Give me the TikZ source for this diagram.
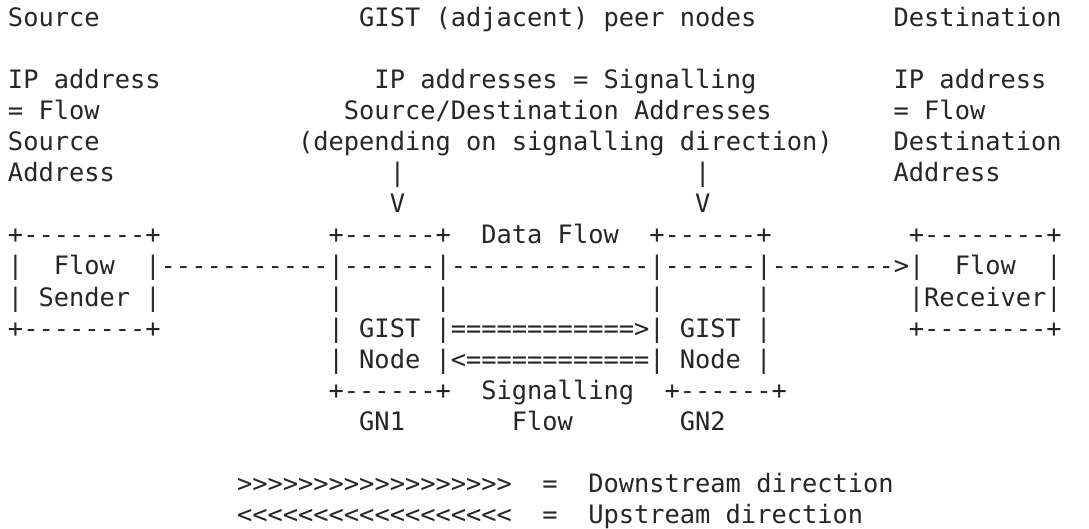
\documentclass[tikz,border=0pt]{standalone}
\usepackage{fontspec}
\setmonofont{DejaVu Sans Mono}
\definecolor{inkgray}{RGB}{38,38,38}
\newcommand{\cw}{15.27}
\newcommand{\mx}{8}
\newcommand{\lh}{31}
\newcommand{\bl}{27}
\tikzset{
  ascii/.style={anchor=base west, inner sep=0pt, outer sep=0pt,
    font=\ttfamily\fontsize{25.37}{31}\selectfont, text=inkgray},
}
% \at{col}{line}
\newcommand{\at}[2]{({\mx+\cw*(#1)},{-(\bl+\lh*(#2))})}
\begin{document}
\begin{tikzpicture}[x=1pt,y=1pt]
\fill[white] (0,0) rectangle (1089,-529);
\useasboundingbox (0,0) rectangle (1089,-529);
% line 0
\node[ascii] (srcT) at \at{0}{0} {Source};
\node[ascii] (peerT) at \at{23}{0} {GIST (adjacent) peer nodes};
\node[ascii] (dstT) at \at{58}{0} {Destination};
% line 2-5
\node[ascii] (srcA) at \at{0}{2} {IP address};
\node[ascii] (peerA) at \at{24}{2} {IP addresses = Signalling};
\node[ascii] (dstA) at \at{58}{2} {IP address};
\node[ascii] (srcB) at \at{0}{3} {= Flow};
\node[ascii] (peerB) at \at{22}{3} {Source/Destination Addresses};
\node[ascii] (dstB) at \at{58}{3} {= Flow};
\node[ascii] (srcC) at \at{0}{4} {Source};
\node[ascii] (peerC) at \at{19}{4} {(depending on signalling direction)};
\node[ascii] (dstC) at \at{58}{4} {Destination};
\node[ascii] (srcD) at \at{0}{5} {Address};
\node[ascii] (barL) at \at{25}{5} {|};
\node[ascii] (barR) at \at{45}{5} {|};
\node[ascii] (dstD) at \at{58}{5} {Address};
% line 6
\node[ascii] (vL) at \at{25}{6} {V};
\node[ascii] (vR) at \at{45}{6} {V};
% line 7
\node[ascii] (sndTop) at \at{0}{7} {+--------+};
\node[ascii] (gnaTop) at \at{21}{7} {+------+};
\node[ascii] (dataLbl) at \at{31}{7} {Data Flow};
\node[ascii] (gnbTop) at \at{42}{7} {+------+};
\node[ascii] (rcvTop) at \at{59}{7} {+--------+};
% line 8
\node[ascii] (sndL1) at \at{0}{8} {|};
\node[ascii] (sndFlow) at \at{3}{8} {Flow};
\node[ascii] (dataLine) at \at{9}{8} {|-----------|------|-------------|------|-------->|};
\node[ascii] (rcvFlow) at \at{62}{8} {Flow};
\node[ascii] (rcvR1) at \at{68}{8} {|};
% line 9
\node[ascii] (sndL2) at \at{0}{9} {|};
\node[ascii] (sndName) at \at{2}{9} {Sender};
\node[ascii] (sndR2) at \at{9}{9} {|};
\node[ascii] (gnaL2) at \at{21}{9} {|};
\node[ascii] (gnaR2) at \at{28}{9} {|};
\node[ascii] (gnbL2) at \at{42}{9} {|};
\node[ascii] (gnbR2) at \at{49}{9} {|};
\node[ascii] (rcvName) at \at{59}{9} {|Receiver|};
% line 10
\node[ascii] (sndBot) at \at{0}{10} {+--------+};
\node[ascii] (gnaL3) at \at{21}{10} {|};
\node[ascii] (gnaGist) at \at{23}{10} {GIST};
\node[ascii] (sigDown) at \at{28}{10} {|============>|};
\node[ascii] (gnbGist) at \at{44}{10} {GIST};
\node[ascii] (gnbR3) at \at{49}{10} {|};
\node[ascii] (rcvBot) at \at{59}{10} {+--------+};
% line 11
\node[ascii] (gnaL4) at \at{21}{11} {|};
\node[ascii] (gnaNode) at \at{23}{11} {Node};
\node[ascii] (sigUp) at \at{28}{11} {|<============|};
\node[ascii] (gnbNode) at \at{44}{11} {Node};
\node[ascii] (gnbR4) at \at{49}{11} {|};
% line 12
\node[ascii] (gnaBot) at \at{21}{12} {+------+};
\node[ascii] (sigLbl) at \at{31}{12} {Signalling};
\node[ascii] (gnbBot) at \at{43}{12} {+------+};
% line 13
\node[ascii] (gnaName) at \at{23}{13} {GN1};
\node[ascii] (sigLbl2) at \at{33}{13} {Flow};
\node[ascii] (gnbName) at \at{44}{13} {GN2};
% legend
\node[ascii] (downArr) at \at{15}{15} {>>>>>>>>>>>>>>>>>>};
\node[ascii] (downEq) at \at{35}{15} {=};
\node[ascii] (downTxt) at \at{38}{15} {Downstream direction};
\node[ascii] (upArr) at \at{15}{16} {<<<<<<<<<<<<<<<<<<};
\node[ascii] (upEq) at \at{35}{16} {=};
\node[ascii] (upTxt) at \at{38}{16} {Upstream direction};
\end{tikzpicture}
\end{document}
